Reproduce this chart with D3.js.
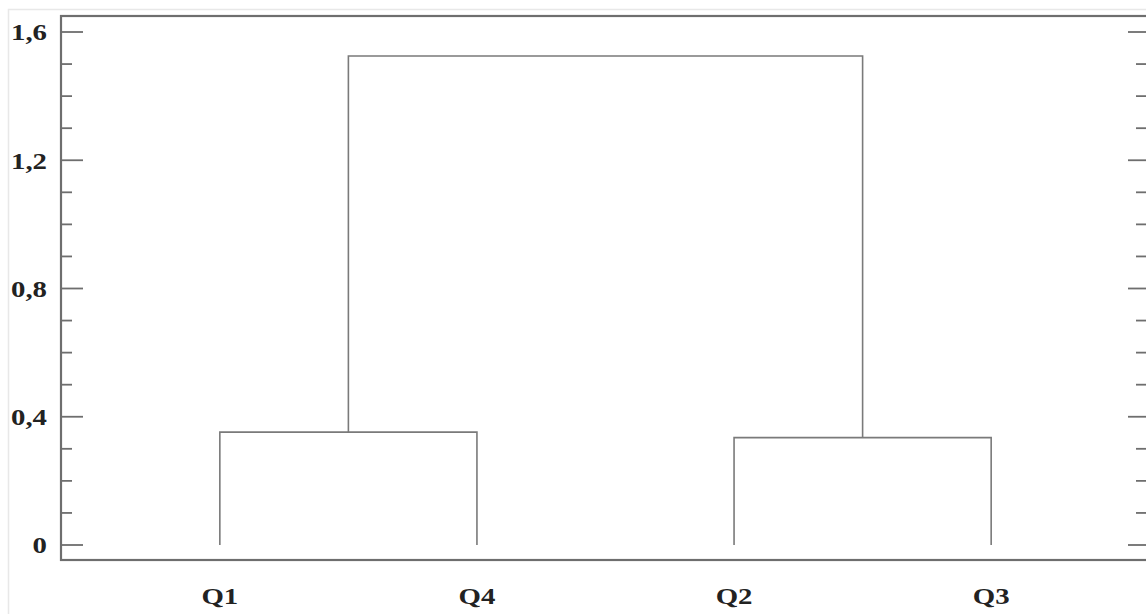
<!DOCTYPE html>
<html>
<head>
<meta charset="utf-8">
<script src="https://cdn.jsdelivr.net/npm/d3@7"></script>
<style>
  html, body { margin: 0; padding: 0; background: #fff; }
  svg { display: block; }
  .lbl { font-family: "Liberation Serif", "Times New Roman", serif; font-weight: bold; fill: #222; }
</style>
</head>
<body>
<svg id="chart" width="1146" height="614"></svg>
<script>
// Leaves in display order
const leaves = ["Q1", "Q4", "Q2", "Q3"];
// Merge steps: [left child, right child, height]
const mergeLeft = ["Q1", "Q2", "A"];
const mergeRight = ["Q4", "Q3", "B"];
const mergeHeight = [0.352, 0.335, 1.525];
const mergeName = ["A", "B", "root"];
// Axis ticks
const yMajorTicks = [0, 0.4, 0.8, 1.2, 1.6];
const yMinorTicks = [0.1, 0.2, 0.3, 0.5, 0.6, 0.7, 0.9, 1.0, 1.1, 1.3, 1.4, 1.5];

const svg = d3.select("#chart");
const plotLeft = 61, plotRight = 1146, plotTop = 16, plotBottom = 560;

const x = d3.scalePoint().domain(leaves).range([plotLeft + 2, plotRight + 2]).padding(0.61);
const y = d3.scaleLinear().domain([0, 1.6]).range([545, 32]);

const fmt = v => v === 0 ? "0" : d3.format(".1f")(v).replace(".", ",");
const stretch = 1.2;

// faint outer frame
svg.append("path")
  .attr("d", `M8.5,614 V9.5 H1146`)
  .attr("fill", "none").attr("stroke", "#e8e8e8").attr("stroke-width", 1.5);

// node positions
const pos = {};
leaves.forEach(l => pos[l] = { x: x(l), h: 0 });
mergeName.forEach((n, i) => {
  const a = pos[mergeLeft[i]], b = pos[mergeRight[i]];
  pos[n] = { x: (a.x + b.x) / 2, h: mergeHeight[i], a, b };
});

// dendrogram links
const g = svg.append("g").attr("fill", "none").attr("stroke", "#7a7a7a").attr("stroke-width", 1.6);
mergeName.forEach(n => {
  const p = pos[n];
  g.append("path").attr("d",
    `M${p.a.x},${y(p.a.h)} V${y(p.h)} H${p.b.x} V${y(p.b.h)}`);
});

// plot frame
svg.append("rect")
  .attr("x", plotLeft).attr("y", plotTop)
  .attr("width", plotRight - plotLeft + 4).attr("height", plotBottom - plotTop)
  .attr("fill", "none").attr("stroke", "#6e6e6e").attr("stroke-width", 2.2);

// ticks on both sides, pointing inward
const tk = svg.append("g").attr("stroke", "#6e6e6e").attr("stroke-width", 1.8);
yMajorTicks.forEach(v => {
  tk.append("line").attr("x1", plotLeft).attr("x2", plotLeft + 22).attr("y1", y(v)).attr("y2", y(v));
  tk.append("line").attr("x1", plotRight - 18).attr("x2", plotRight).attr("y1", y(v)).attr("y2", y(v));
});
yMinorTicks.forEach(v => {
  tk.append("line").attr("x1", plotLeft).attr("x2", plotLeft + 11).attr("y1", y(v)).attr("y2", y(v));
  tk.append("line").attr("x1", plotRight - 10).attr("x2", plotRight).attr("y1", y(v)).attr("y2", y(v));
});

// y tick labels
svg.append("g").selectAll("text").data(yMajorTicks).join("text")
  .attr("class", "lbl")
  .attr("transform", d => `translate(47,${y(d)}) scale(${stretch},1)`)
  .attr("dy", "0.35em")
  .attr("text-anchor", "end")
  .attr("font-size", 24)
  .text(fmt);

// leaf labels
svg.append("g").selectAll("text").data(leaves).join("text")
  .attr("class", "lbl")
  .attr("transform", d => `translate(${x(d)},604) scale(${stretch},1)`)
  .attr("text-anchor", "middle")
  .attr("font-size", 24)
  .text(d => d);
</script>
</body>
</html>
